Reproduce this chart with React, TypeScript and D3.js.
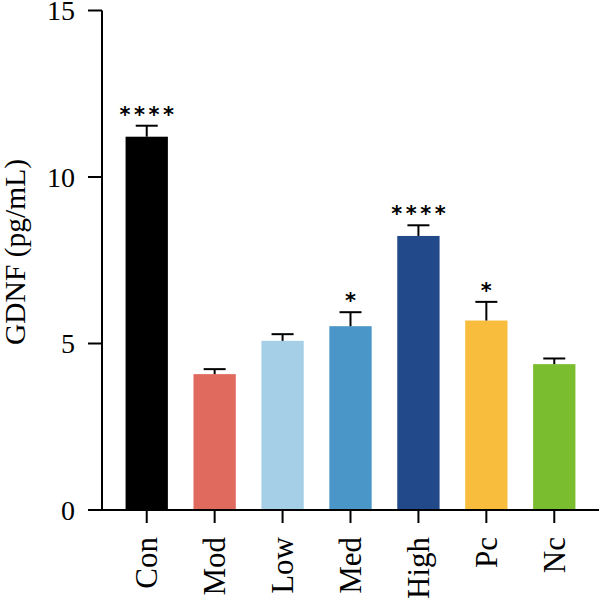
import React from "react";
import * as d3 from "d3";

const groups = ["Con", "Mod", "Low", "Med", "High", "Pc", "Nc"];
const means = [11.21, 4.08, 5.08, 5.52, 8.23, 5.69, 4.38];
const errors = [0.33, 0.15, 0.2, 0.42, 0.32, 0.56, 0.17];
const marks = ["****", "", "", "*", "****", "*", ""];
const colors = ["#000000", "#E06A5E", "#A5CFE7", "#4A96C9", "#224A8A", "#F8BD3D", "#7ABD2E"];
const yTicks = [0, 5, 10, 15];
const yLabel = "GDNF (pg/mL)";

const W = 600;
const H = 602;
const axisX = 102;
const axisY = 510;

export default function App() {
  const y = d3.scaleLinear().domain([0, 15]).range([axisY, 10.5]);
  const x = d3
    .scaleBand<string>()
    .domain(groups)
    .range([axisX, 599])
    .paddingInner(0.377)
    .paddingOuter(0.347);
  const bw = x.bandwidth();
  const capW = 22;
  const serif = "'Liberation Serif', 'Times New Roman', serif";

  return (
    <svg
      width={W}
      height={H}
      style={{ position: "absolute", left: 0, top: 0, background: "#fff" }}
    >
      {/* bars */}
      {groups.map((g, i) => {
        const x0 = x(g)!;
        const cx = x0 + bw / 2;
        const top = y(means[i]);
        const capY = y(means[i] + errors[i]);
        return (
          <g key={g}>
            <rect x={x0} y={top} width={bw} height={axisY - top} fill={colors[i]} />
            <line x1={cx} x2={cx} y1={top} y2={capY} stroke="#000" strokeWidth={2} />
            <line x1={cx - capW / 2} x2={cx + capW / 2} y1={capY} y2={capY} stroke="#000" strokeWidth={2} />
            {marks[i] && (
              <text
                x={cx + 1.75}
                y={capY - 4}
                textAnchor="middle"
                fontFamily="'DejaVu Sans', sans-serif"
                fontWeight="bold"
                fontSize={21}
                letterSpacing={3.5}
                fill="#000"
              >
                {marks[i]}
              </text>
            )}
          </g>
        );
      })}

      {/* y axis */}
      <line x1={axisX} x2={axisX} y1={y(15)} y2={axisY} stroke="#000" strokeWidth={2} />
      {yTicks.map((t) => (
        <g key={t}>
          <line x1={axisX - 14} x2={axisX} y1={y(t)} y2={y(t)} stroke="#000" strokeWidth={2} />
          <text
            x={75}
            y={y(t)}
            dy="0.34em"
            textAnchor="end"
            fontFamily={serif}
            fontSize={28}
            fill="#000"
          >
            {t}
          </text>
        </g>
      ))}
      <text
        transform={`translate(25, 252) rotate(-90)`}
        textAnchor="middle"
        fontFamily={serif}
        fontSize={29.5}
        fill="#000"
      >
        {yLabel}
      </text>

      {/* x axis */}
      <line x1={axisX - 1} x2={599} y1={axisY} y2={axisY} stroke="#000" strokeWidth={2} />
      {groups.map((g) => {
        const cx = x(g)! + bw / 2;
        return (
          <g key={g}>
            <line x1={cx} x2={cx} y1={axisY} y2={axisY + 13} stroke="#000" strokeWidth={2} />
            <text
              transform={`translate(${cx}, 537) rotate(-90)`}
              dy="0.34em"
              textAnchor="end"
              fontFamily={serif}
              fontSize={31}
              fill="#000"
            >
              {g}
            </text>
          </g>
        );
      })}
    </svg>
  );
}
